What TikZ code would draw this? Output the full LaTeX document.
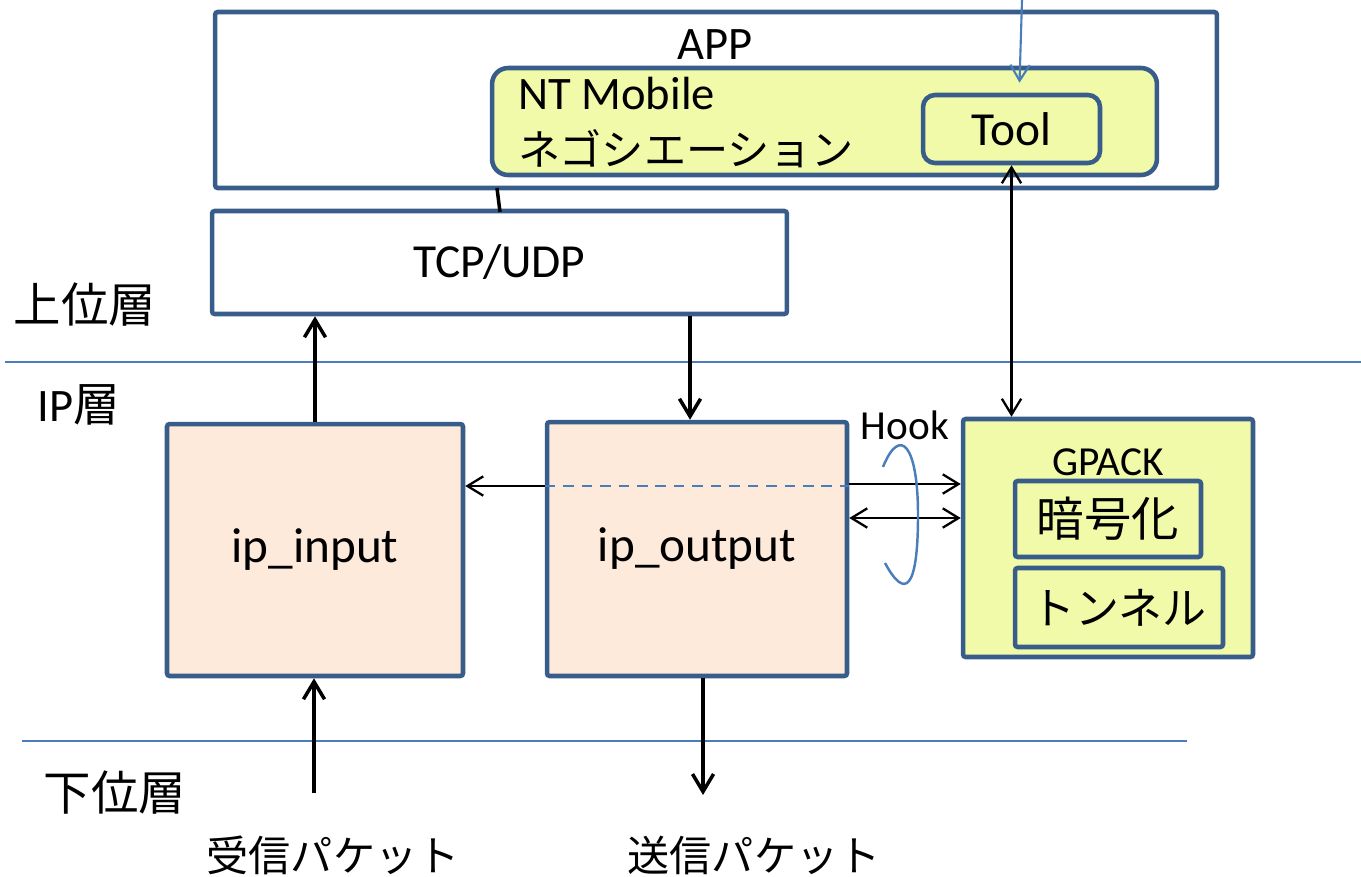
\documentclass[tikz,border=0pt]{standalone}
\usepackage{fontspec}
\setmainfont{Carlito}
\newfontfamily\jpfont{Noto Sans CJK JP}
\usetikzlibrary{arrows.meta,positioning,calc}
\definecolor{boxblue}{RGB}{56,93,138}
\definecolor{lineblue}{RGB}{74,126,187}
\definecolor{paleyellow}{RGB}{241,250,168}
\definecolor{peach}{RGB}{253,234,218}

\begin{document}
\begin{tikzpicture}[
    x=0.02cm, y=-0.02cm,
    frame/.style={rectangle, draw=boxblue, line width=2.6pt, inner sep=0pt, rounded corners=1.5pt},
    ybox/.style={frame, fill=paleyellow},
    pbox/.style={frame, fill=peach},
    lbl/.style={inner sep=0pt, font=\fontsize{26.5}{30}\selectfont},
    blbl/.style={inner sep=0pt, font=\fontsize{28}{32}\selectfont},
    slbl/.style={inner sep=0pt, font=\fontsize{23.5}{28}\selectfont},
    jlbl/.style={inner sep=0pt, font=\jpfont\fontsize{24}{30}\selectfont},
    bjlbl/.style={inner sep=0pt, font=\jpfont\fontsize{27}{32}\selectfont},
    arrow/.style={-{Straight Barb[length=10pt,width=12pt]}, line width=2pt},
    tarrow/.style={-{Straight Barb[length=9pt,width=11pt]}, line width=1.3pt},
    tdarrow/.style={{Straight Barb[length=9pt,width=11pt]}-{Straight Barb[length=9pt,width=11pt]}, line width=1.3pt},
    sep/.style={draw=lineblue, line width=1.3pt}
]
\useasboundingbox (0,0) rectangle (1361,876);

% Upper layer: APP, NT Mobile, TCP/UDP
\node[frame, minimum width=20.04cm, minimum height=3.52cm] (app) at (716,100) {};
\node[lbl] (apptext) at (715,45) {APP};
\node[ybox, rounded corners=0.32cm, minimum width=13.3cm, minimum height=2.14cm] (ntm) at (824.5,121.5) {};
\node[lbl, anchor=west] (ntmname) at (518,93) {NT Mobile};
\node[jlbl, anchor=west] (nego) at (518,149) {ネゴシエーション};
\node[ybox, lbl, font=\fontsize{27}{30}\selectfont, rounded corners=0.24cm, minimum width=3.54cm, minimum height=1.36cm] (tool) at (1011.5,129) {Tool};
\node[frame, lbl, font=\fontsize{27}{30}\selectfont, minimum width=11.5cm, minimum height=2.06cm] (tcp) at (499.5,262.5) {TCP/UDP};
\node[bjlbl] (upper) at (85,305) {上位層};

% Layer separators
\coordinate (upl) at (5,362);
\coordinate (upr) at (1361,362);
\draw[sep] (upl) -- (upr);
\coordinate (lowl) at (22,741);
\coordinate (lowr) at (1187,741);
\draw[sep] (lowl) -- (lowr);

% IP layer
\node[lbl] (iplayer) at (79,405) {IP{\jpfont 層}};
\node[pbox, blbl, minimum width=5.92cm, minimum height=5.04cm] (ipin) at (315,550) {ip\_input};
\node[pbox, blbl, minimum width=6.0cm, minimum height=5.08cm] (ipout) at (697,549) {ip\_output};
\node[ybox, minimum width=5.8cm, minimum height=4.76cm] (gpack) at (1108,538) {};
\node[slbl] (gpacktext) at (1108,462) {GPACK};
\node[ybox, bjlbl, minimum width=3.72cm, minimum height=1.52cm] (enc) at (1108,519) {暗号化};
\node[ybox, jlbl, font=\jpfont\fontsize{25}{30}\selectfont, minimum width=4.16cm, minimum height=1.58cm] (tun) at (1119,607.5) {トンネル};
\node[slbl] (hook) at (905,425) {Hook};

% Lower layer
\node[bjlbl] (lower) at (115,793) {下位層};
\node[jlbl] (recv) at (333,855) {受信パケット};
\node[jlbl] (send) at (754,855) {送信パケット};

% Connectors
\coordinate (ext) at (1022,0);
\coordinate (toolin) at ($(tool.north)+(8,-10)$);
\draw[-{Straight Barb[length=9pt,width=11pt]}, draw=lineblue, line width=1.2pt] (ext) -- (toolin);
\coordinate (nt1) at (497,188);
\coordinate (nt2) at (500,212);
\draw[line width=2pt] (nt1) -- (nt2);
\draw[arrow] (ipin.north) -- (ipin.north |- tcp.south);
\coordinate (outtop) at ($(ipout.north)+(-7,0)$);
\draw[arrow] (tcp.south -| outtop) -- (outtop);
\draw[tdarrow] (tool.south) -- (tool.south |- gpack.north);

\coordinate (back) at ($(ipout.west)+(0,-63)$);
\draw[tarrow] (back) -- (back -| ipin.east);
\draw[draw=lineblue, line width=1.3pt, dash pattern=on 6pt off 4.5pt] (back) -- (back -| ipout.east);
\coordinate (hk1) at ($(ipout.east)+(0,-65)$);
\draw[tarrow] (hk1) -- (hk1 -| gpack.west);
\coordinate (hk2) at ($(ipout.east)+(0,-31)$);
\draw[tdarrow] (hk2) -- (hk2 -| gpack.west);
\draw[draw=lineblue, line width=1.4pt] (883,467) .. controls (900,425) and (918,445) .. (918,515) .. controls (918,590) and (905,600) .. (885,563);

\coordinate (recvtail) at (314,793);
\draw[arrow] (recvtail) -- (recvtail |- ipin.south);
\coordinate (sendtip) at (703,795);
\draw[arrow] (ipout.south -| sendtip) -- (sendtip);

\end{tikzpicture}
\end{document}
